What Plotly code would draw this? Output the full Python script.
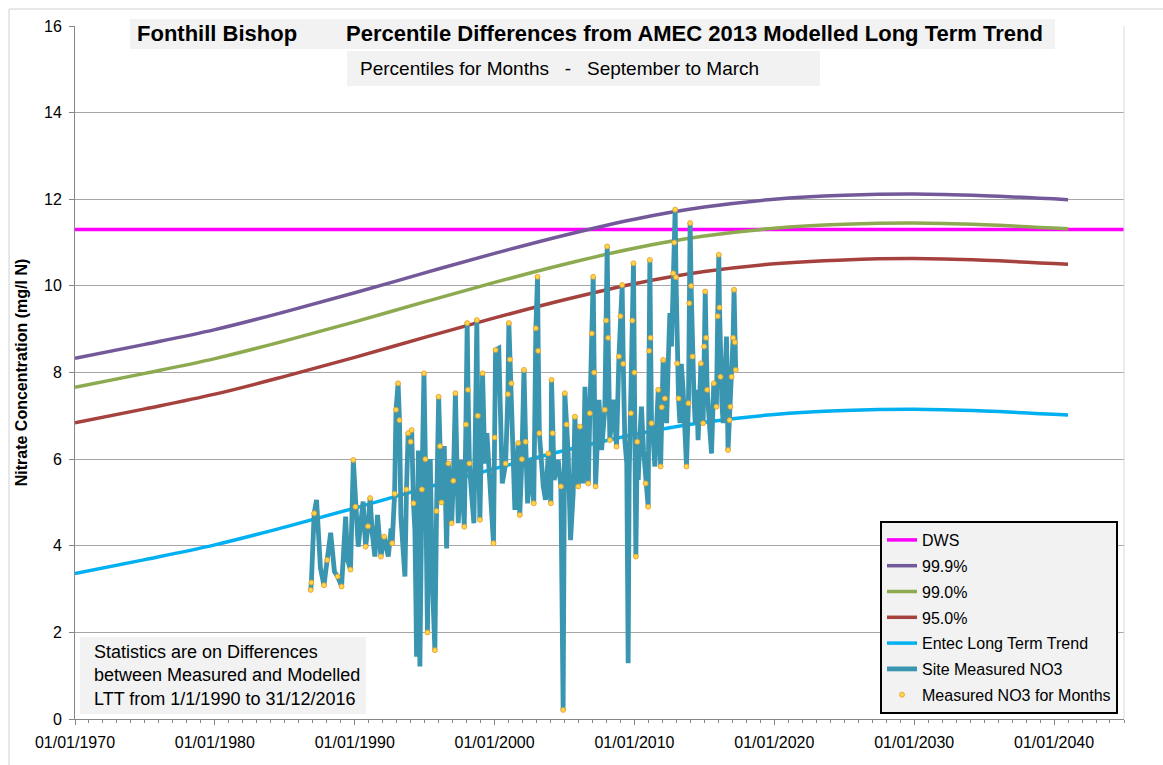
import plotly.graph_objects as go
import pandas as pd

# ---------------- data ----------------
trend_years = [1970, 1975, 1980, 1985, 1990, 1995, 2000, 2005, 2010, 2015, 2020, 2025, 2030, 2035, 2041]
entec_ltt = [3.36, 3.68, 4.02, 4.43, 4.87, 5.33, 5.78, 6.20, 6.57, 6.85, 7.03, 7.12, 7.15, 7.11, 7.02]
p999 = [8.33, 8.65, 8.99, 9.40, 9.84, 10.30, 10.75, 11.17, 11.54, 11.82, 12.00, 12.09, 12.12, 12.08, 11.99]
p990 = [7.66, 7.98, 8.32, 8.73, 9.17, 9.63, 10.08, 10.50, 10.87, 11.15, 11.33, 11.42, 11.45, 11.41, 11.32]
p950 = [6.84, 7.16, 7.50, 7.91, 8.35, 8.81, 9.26, 9.68, 10.05, 10.33, 10.51, 10.60, 10.63, 10.59, 10.50]

dws_years = [1970, 2045]
dws = [11.3, 11.3]

meas_years = [
    1986.85, 1986.90, 1987.10, 1987.27, 1987.55, 1987.80, 1988.03, 1988.28, 1988.55, 1988.78,
    1989.06, 1989.35, 1989.49, 1989.70, 1989.90, 1990.05, 1990.25, 1990.60, 1990.78, 1990.95,
    1991.10, 1991.25, 1991.44, 1991.63, 1991.87, 1992.10, 1992.40, 1992.60, 1992.68, 1992.85,
    1992.95, 1993.10, 1993.20, 1993.30, 1993.59, 1993.70, 1993.82, 1994.00, 1994.07, 1994.20,
    1994.30, 1994.38, 1994.42, 1994.50, 1994.55, 1994.60, 1994.66, 1994.80, 1994.95, 1995.05,
    1995.20, 1995.30, 1995.40, 1995.55, 1995.73, 1995.85, 1996.00, 1996.10, 1996.20, 1996.40,
    1996.57, 1996.70, 1996.93, 1997.05, 1997.20, 1997.30, 1997.40, 1997.64, 1997.83, 1997.95,
    1998.04, 1998.10, 1998.20, 1998.35, 1998.52, 1998.65, 1998.73, 1998.80, 1998.95, 1999.14,
    1999.30, 1999.45, 1999.60, 1999.92, 2000.00, 2000.07, 2000.30, 2000.45, 2000.55, 2000.79,
    2000.95, 2001.02, 2001.10, 2001.20, 2001.35, 2001.45, 2001.69, 2001.80, 2001.95, 2002.10,
    2002.22, 2002.36, 2002.60, 2002.80, 2002.95, 2003.07, 2003.12, 2003.20, 2003.48, 2003.64,
    2003.84, 2004.02, 2004.07, 2004.15, 2004.26, 2004.55, 2004.74, 2004.90, 2005.02, 2005.15,
    2005.26, 2005.43, 2005.62, 2005.74, 2005.98, 2006.10, 2006.34, 2006.46, 2006.58, 2006.70,
    2006.81, 2006.95, 2007.05, 2007.12, 2007.22, 2007.46, 2007.65, 2007.88, 2007.98, 2008.05,
    2008.12, 2008.24, 2008.48, 2008.72, 2008.89, 2009.00, 2009.12, 2009.20, 2009.31, 2009.45,
    2009.55, 2009.62, 2009.74, 2009.85, 2009.93, 2010.00, 2010.10, 2010.20, 2010.27, 2010.40,
    2010.50, 2010.65, 2010.80, 2010.98, 2011.05, 2011.10, 2011.15, 2011.22, 2011.35, 2011.46,
    2011.60, 2011.70, 2011.87, 2011.95, 2012.05, 2012.18, 2012.30, 2012.42, 2012.53, 2012.65,
    2012.77, 2012.85, 2012.91, 2012.97, 2013.05, 2013.15, 2013.25, 2013.35, 2013.48, 2013.60,
    2013.72, 2013.86, 2013.92, 2013.98, 2014.05, 2014.15, 2014.25, 2014.34, 2014.45, 2014.55,
    2014.65, 2014.75, 2014.91, 2014.98, 2015.06, 2015.12, 2015.20, 2015.39, 2015.51, 2015.67,
    2015.86, 2015.95, 2016.03, 2016.08, 2016.15, 2016.25, 2016.34, 2016.45, 2016.58, 2016.69,
    2016.80, 2016.86, 2016.95, 2017.05, 2017.12, 2017.18, 2017.24,
]
meas_no3 = [
    2.98, 3.15, 4.75, 5.06, 3.48, 3.09, 3.67, 4.30, 3.40, 3.29,
    3.06, 4.67, 3.67, 3.45, 5.98, 4.90, 3.98, 5.02, 3.98, 4.45,
    5.10, 4.30, 3.75, 4.71, 3.75, 4.21, 3.75, 4.40, 4.06, 5.20,
    7.14, 7.75, 6.90, 4.67, 3.29, 5.30, 6.60, 6.40, 6.67, 4.98,
    4.36, 2.60, 1.44, 4.60, 6.20, 2.80, 1.21, 5.30, 7.98, 6.00,
    2.00, 4.50, 6.00, 3.20, 1.59, 4.80, 7.44, 6.30, 5.00, 6.30,
    3.94, 5.90, 4.52, 5.50, 7.52, 6.00, 4.52, 5.98, 4.44, 6.80,
    9.14, 7.60, 5.90, 5.20, 4.52, 7.20, 9.21, 7.00, 4.60, 7.98,
    5.90, 6.60, 5.75, 4.06, 6.50, 8.52, 8.56, 6.80, 5.44, 5.90,
    7.50, 9.14, 8.30, 7.75, 5.52, 4.83, 6.37, 4.71, 6.00, 8.06,
    6.40, 4.98, 6.00, 4.98, 9.02, 10.21, 8.50, 6.60, 5.37, 5.06,
    6.13, 4.98, 7.83, 6.60, 5.52, 5.98, 5.37, 0.21, 7.52, 6.80,
    6.13, 4.13, 5.21, 6.98, 5.37, 6.75, 5.44, 7.67, 6.40, 5.44,
    7.06, 8.90, 10.21, 8.00, 5.37, 7.37, 6.21, 7.14, 9.20, 10.91,
    8.80, 6.44, 7.37, 6.29, 8.37, 9.30, 10.02, 8.20, 6.44, 5.90,
    1.29, 5.60, 7.06, 9.20, 10.52, 8.00, 3.75, 6.40, 5.52, 6.60,
    7.21, 6.20, 5.44, 4.90, 8.50, 10.60, 8.80, 6.83, 6.40, 5.83,
    6.90, 7.60, 5.83, 7.20, 8.29, 7.40, 6.83, 8.30, 9.37, 8.60,
    10.29, 11.00, 11.76, 10.20, 8.21, 7.40, 6.83, 8.20, 7.60, 6.60,
    5.83, 7.29, 9.60, 11.45, 10.00, 8.37, 7.50, 6.83, 7.60, 6.44,
    7.20, 8.21, 6.83, 8.60, 9.87, 8.80, 7.60, 6.67, 6.13, 7.75,
    7.21, 9.30, 10.72, 9.50, 7.90, 7.30, 6.83, 7.80, 8.83, 6.21,
    6.90, 7.21, 7.90, 8.80, 9.91, 8.70, 8.06,
]

# months counted for the percentile statistics (September to March)
season_months = [9, 10, 11, 12, 1, 2, 3]

x_range = ["1970-01-01", "2045-01-01"]
y_ticks = [0, 2, 4, 6, 8, 10, 12, 14, 16]


def to_dates(years):
    base = pd.Timestamp("1970-01-01")
    return [base + pd.to_timedelta((y - 1970) * 365.25, unit="D") for y in years]


trend_dates = to_dates(trend_years)
meas_dates = to_dates(meas_years)
dot_dates = [d for d in meas_dates if d.month in season_months]
dot_vals = [v for d, v in zip(meas_dates, meas_no3) if d.month in season_months]

FONT = "Liberation Sans, Arial, sans-serif"

fig = go.Figure()
fig.add_trace(go.Scatter(x=to_dates(dws_years), y=dws, mode="lines", name="DWS",
                         line=dict(color="#FF00FF", width=3.5)))
fig.add_trace(go.Scatter(x=trend_dates, y=p999, mode="lines", name="99.9%",
                         line=dict(color="#74599A", width=3.5, shape="spline")))
fig.add_trace(go.Scatter(x=trend_dates, y=p990, mode="lines", name="99.0%",
                         line=dict(color="#8DAA50", width=3.5, shape="spline")))
fig.add_trace(go.Scatter(x=trend_dates, y=p950, mode="lines", name="95.0%",
                         line=dict(color="#A6423E", width=3.5, shape="spline")))
fig.add_trace(go.Scatter(x=trend_dates, y=entec_ltt, mode="lines", name="Entec Long Term Trend",
                         line=dict(color="#00B0F0", width=3.5, shape="spline")))
fig.add_trace(go.Scatter(x=meas_dates, y=meas_no3, mode="lines", name="Site Measured NO3",
                         line=dict(color="#3A96B0", width=4.8)))
fig.add_trace(go.Scatter(x=dot_dates, y=dot_vals, mode="markers", name="Measured NO3 for Months",
                         marker=dict(color="#FFD54A", size=5, line=dict(color="#E39A2D", width=0.8))))

# pixel helpers for decorations (plot area 75..1124 x 26..719)
L, R, T, B = 75, 1124, 26, 719


def px(x):
    return (x - L) / (R - L)


def py(y):
    return (B - y) / (B - T)


shapes = [
    dict(type="rect", xref="paper", yref="paper", x0=px(130), x1=px(1055), y0=py(49), y1=py(19),
         fillcolor="#F2F2F2", line=dict(width=0), layer="above"),
    dict(type="rect", xref="paper", yref="paper", x0=px(347), x1=px(820), y0=py(86), y1=py(51),
         fillcolor="#F2F2F2", line=dict(width=0), layer="above"),
    dict(type="rect", xref="paper", yref="paper", x0=px(80), x1=px(366), y0=py(714), y1=py(637),
         fillcolor="#F2F2F2", line=dict(width=0), layer="above"),
    dict(type="line", xref="paper", yref="paper", x0=px(9), x1=px(9), y0=py(9), y1=py(765),
         line=dict(color="#D0D0D0", width=1)),
    dict(type="line", xref="paper", yref="paper", x0=px(9), x1=px(1163), y0=py(9), y1=py(9),
         line=dict(color="#D0D0D0", width=1)),
    dict(type="line", xref="paper", yref="paper", x0=1, x1=1, y0=0, y1=1,
         line=dict(color="#D9D9D9", width=1)),
]

annotations = [
    dict(xref="paper", yref="paper", x=px(135), y=py(34), xanchor="left", yanchor="middle",
         text="<b>Fonthill Bishop" + "\u00a0" * 8 + "Percentile Differences from AMEC 2013 Modelled Long Term Trend</b>",
         showarrow=False, font=dict(family=FONT, size=22, color="#000000")),
    dict(xref="paper", yref="paper", x=px(358), y=py(69), xanchor="left", yanchor="middle",
         text="Percentiles for Months" + "\u00a0" * 3 + "-" + "\u00a0" * 3 + "September to March",
         showarrow=False, font=dict(family=FONT, size=19, color="#000000")),
    dict(xref="paper", yref="paper", x=px(92), y=py(675), xanchor="left", yanchor="middle",
         align="left",
         text="Statistics are on Differences<br>between Measured and Modelled<br>LTT from 1/1/1990 to 31/12/2016",
         showarrow=False, font=dict(family=FONT, size=18, color="#000000")),
]

fig.update_layout(
    width=1163, height=765,
    margin=dict(l=L, r=1163 - R, t=T, b=765 - B),
    paper_bgcolor="white", plot_bgcolor="white",
    font=dict(family=FONT, size=16, color="#000000"),
    showlegend=True,
    legend=dict(x=px(880), y=py(521), xanchor="left", yanchor="top",
                bgcolor="#F2F2F2", bordercolor="#000000", borderwidth=2,
                font=dict(family=FONT, size=16, color="#000000"),
                tracegroupgap=2, itemwidth=30),
    shapes=shapes,
    annotations=annotations,
    xaxis=dict(
        type="date", range=x_range,
        tick0="1970-01-01", dtick="M120", tickformat="%d/%m/%Y",
        ticks="outside", ticklen=5, tickcolor="#868686",
        showline=True, linecolor="#868686", linewidth=1,
        showgrid=False, zeroline=False, ticklabelstandoff=4,
        tickfont=dict(family=FONT, size=16, color="#000000"),
        minor=dict(dtick="M12", tick0="1970-01-01", ticks="outside", ticklen=3,
                   tickcolor="#868686", showgrid=False),
    ),
    yaxis=dict(
        range=[0, 16], tickvals=y_ticks,
        ticks="outside", ticklen=5, tickcolor="#868686",
        showline=True, linecolor="#868686", linewidth=1,
        showgrid=True, gridcolor="#A6A6A6", gridwidth=1, zeroline=False,
        ticklabelstandoff=4,
        tickfont=dict(family=FONT, size=16, color="#000000"),
        title=dict(text="<b>Nitrate Concentration (mg/l N)</b>", font=dict(family=FONT, size=16), standoff=12),
    ),
)

for i, tr in enumerate(fig.data):
    tr.legendgroup = "g%d" % i

fig.write_html("out.html")
